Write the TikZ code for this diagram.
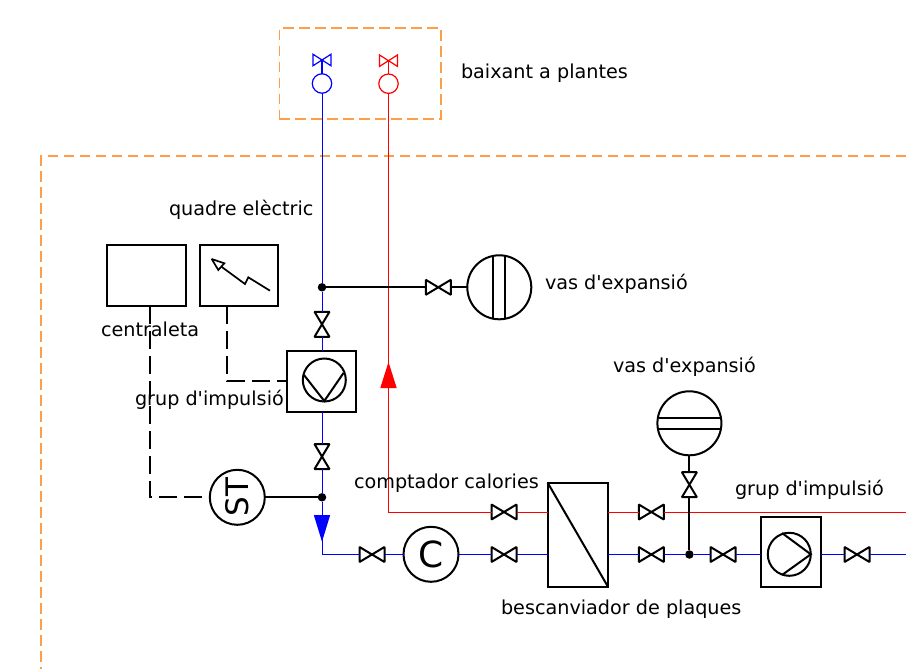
\documentclass[tikz,border=0pt]{standalone}
\usepackage{fontspec}
\setmainfont{DejaVu Sans}
\newfontfamily\labfont{DejaVu Sans}
\definecolor{zone}{HTML}{FF9E4A}
\tikzset{
  sym/.style={draw=black,line width=2pt,line join=miter,miter limit=2},
  box/.style={sym,fill=none,rectangle,inner sep=0pt,outer sep=0pt},
  round/.style={sym,circle,inner sep=0pt,outer sep=0pt},
  valveh/.style={rectangle,inner sep=0pt,outer sep=0pt,minimum width=25pt,minimum height=15pt},
  valvev/.style={rectangle,inner sep=0pt,outer sep=0pt,minimum width=15pt,minimum height=25pt},
  smallvalve/.style={rectangle,inner sep=0pt,outer sep=0pt,minimum width=18pt,minimum height=11.5pt},
  dot/.style={circle,fill=black,inner sep=0pt,outer sep=0pt,minimum size=8.5pt},
  tap/.style={circle,inner sep=0pt,outer sep=0pt,minimum size=19.4pt,line width=1.2pt,draw=#1},
  blueline/.style={draw=blue,line width=1pt},
  redline/.style={draw=red,line width=1pt},
  link/.style={draw=black,line width=2pt},
  ctrl/.style={draw=black,line width=2pt,dash pattern=on 18pt off 7pt},
  zoneline/.style={draw=zone,line width=1.6pt,dash pattern=on 10.5pt off 5.5pt},
  lab/.style={anchor=base west,inner sep=0pt,outer sep=0pt,font=\labfont\fontsize{19.2pt}{22pt}\selectfont}
}
\newcommand{\vh}[3]{\node[valveh] (#1) at (#2,#3) {};
  \draw[sym] (#1.north west) -- (#1.south east) -- (#1.north east) -- (#1.south west) -- cycle;}
\newcommand{\vv}[3]{\node[valvev] (#1) at (#2,#3) {};
  \draw[sym] (#1.north west) -- (#1.north east) -- (#1.south west) -- (#1.south east) -- cycle;}
\begin{document}
\begin{tikzpicture}[x=1pt,y=-1pt]
\useasboundingbox (0,0) rectangle (906,669);
% zones
\node[rectangle,minimum width=161.6pt,minimum height=91pt,inner sep=0pt,outer sep=0pt,zoneline] (riser) at (360.2,73.5) {};
\coordinate (zA) at (906,156);
\coordinate (zB) at (41.2,156);
\coordinate (zC) at (41.2,669);
\draw[zoneline] (zA) -- (zB) -- (zC);
% symbols
\node[tap=blue] (tapB) at (322,83.5) {};
\node[tap=red] (tapR) at (388.5,83.7) {};
\node[smallvalve] (svB) at (322,60) {};
\draw[draw=blue,line width=1.2pt] (svB.north west) -- (svB.south east) -- (svB.north east) -- (svB.south west) -- cycle;
\node[smallvalve] (svR) at (388.5,60.7) {};
\draw[draw=red,line width=1.2pt] (svR.north west) -- (svR.south east) -- (svR.north east) -- (svR.south west) -- cycle;
\draw[draw=blue,line width=1.6pt] (svB.center) -- (tapB.north);
\draw[draw=red,line width=1.4pt] (svR.center) -- (tapR.north);

\node[box,minimum width=78.4pt,minimum height=60.7pt] (central) at (146.5,275.6) {};
\node[box,minimum width=78pt,minimum height=60.7pt] (quadre) at (239.3,275.6) {};
\coordinate (a1) at (211.7,259);
\coordinate (a2) at (224.3,263.3);
\coordinate (a3) at (218.3,270);
\coordinate (a4) at (221.3,266.6);
\coordinate (a5) at (245,284);
\coordinate (a6) at (248.3,277.3);
\coordinate (a7) at (270,290.7);
\draw[sym,line width=1.7pt] (a1) -- (a2) -- (a3) -- cycle;
\draw[sym,line width=1.7pt] (a4) -- (a5) -- (a6) -- (a7);

\node[box,minimum width=69pt,minimum height=60.4pt] (pumpV) at (321.8,381.5) {};
\node[round,minimum size=43pt] (pumpVc) at (324.3,380) {};
\coordinate (pv1) at (304,375);
\coordinate (pv2) at (324.3,401);
\coordinate (pv3) at (343.5,373);
\draw[sym] (pv1) -- (pv2) -- (pv3);

\vv{vA}{322}{324.3}
\vv{vB}{322}{456.6}
\node[dot] (jA) at (322,287.3) {};
\node[dot] (jB) at (322,497.3) {};
\vh{vC}{438.3}{287.3}
\node[round,minimum size=64pt] (vesA) at (499.3,287.3) {};
\coordinate (vA1) at (493.3,255.9);
\coordinate (vA2) at (493.3,318.7);
\coordinate (vA3) at (505.3,255.9);
\coordinate (vA4) at (505.3,318.7);
\draw[sym] (vA1) -- (vA2) (vA3) -- (vA4);

\node[round,minimum size=55pt,font=\fontsize{31pt}{33pt}\selectfont] (st) at (237.3,497.3) {\rotatebox{90}{ST}};
\node[round,minimum size=55pt,font=\fontsize{36pt}{40pt}\selectfont] (cal) at (431,554.3) {C};
\vh{vD}{372}{554.5}
\vh{vE}{504}{554.5}
\vh{vF}{504}{512}
\node[box,minimum width=60.3pt,minimum height=104pt] (hx) at (577.8,534.7) {};
\draw[sym] (hx.north west) -- (hx.south east);
\vh{vG}{651.3}{512}
\vh{vH}{651.3}{554.5}
\node[dot] (jC) at (689.4,554.5) {};
\vh{vI}{723}{554.5}
\vh{vJ}{857}{554.5}
\vv{vK}{689.4}{484.7}
\node[round,minimum size=64pt] (vesB) at (689.4,423.3) {};
\coordinate (vB1) at (657.9,417.7);
\coordinate (vB2) at (720.9,417.7);
\coordinate (vB3) at (658,429.3);
\coordinate (vB4) at (720.8,429.3);
\draw[sym] (vB1) -- (vB2) (vB3) -- (vB4);
\node[box,minimum width=60.3pt,minimum height=69.4pt] (pumpH) at (790.8,552) {};
\node[round,minimum size=43pt] (pumpHc) at (789.3,554.3) {};
\coordinate (ph1) at (782,533);
\coordinate (ph2) at (810.8,554.3);
\coordinate (ph3) at (782,575);
\draw[sym] (ph1) -- (ph2) -- (ph3);

% pipes
\coordinate (cornerB) at (322,554.5);
\coordinate (cornerR) at (388.5,512);
\coordinate (endR) at (906,512);
\coordinate (endB) at (906,554.5);
\draw[blueline] (tapB.south) -- (jA) -- (vA.north);
\draw[blueline] (vA.south) -- (vA.south |- pumpV.north);
\draw[blueline] (vB.north |- pumpV.south) -- (vB.north);
\draw[blueline] (vB.south) -- (jB) -- (cornerB) -- (vD.west);
\draw[blueline] (vD.east) -- (cal.west |- vD.east);
\draw[blueline] (cal.east |- vE.west) -- (vE.west);
\draw[blueline] (vE.east) -- (hx.west |- vE.east);
\draw[blueline] (hx.east |- vH.west) -- (vH.west);
\draw[blueline] (vH.east) -- (jC) -- (vI.west);
\draw[blueline] (vI.east) -- (pumpH.west |- vI.east);
\draw[blueline] (pumpH.east |- vJ.west) -- (vJ.west);
\draw[blueline] (vJ.east) -- (endB);
\draw[redline] (tapR.south) -- (cornerR) -- (vF.west);
\draw[redline] (vF.east) -- (hx.west |- vF.east);
\draw[redline] (hx.east |- vG.west) -- (vG.west);
\draw[redline] (vG.east) -- (endR);

% arrowheads
\coordinate (bA) at (313.8,515);
\coordinate (bB) at (330.2,515);
\coordinate (bC) at (322,541.7);
\fill[blue] (bA) -- (bB) -- (bC) -- cycle;
\coordinate (rA) at (380.3,388);
\coordinate (rB) at (396.7,388);
\coordinate (rC) at (388.5,362);
\fill[red] (rA) -- (rB) -- (rC) -- cycle;

% links
\draw[link] (jA) -- (vC.west);
\draw[link] (vC.east) -- (vesA.west);
\draw[link] (st.east) -- (jB);
\draw[link] (jC) -- (vK.south);
\draw[link] (vK.north) -- (vesB.south);
\coordinate (c1) at (150.2,497.3);
\coordinate (c2) at (227.3,381);
\draw[ctrl] (central.south -| c1) -- (c1) -- (st.west);
\draw[ctrl] (quadre.south -| c2) -- (c2) -- (pumpV.west |- c2);

% labels
\node[lab] (t1) at (461,78.2) {baixant a plantes};
\node[lab] (t2) at (169,215.7) {quadre elèctric};
\node[lab] (t3) at (101,336.2) {centraleta};
\node[lab] (t4) at (135,405) {grup d'impulsió};
\node[lab] (t5) at (545,289.7) {vas d'expansió};
\node[lab] (t6) at (613,372.7) {vas d'expansió};
\node[lab] (t7) at (354,488.7) {comptador calories};
\node[lab] (t8) at (735,495) {grup d'impulsió};
\node[lab] (t9) at (501,614.7) {bescanviador de plaques};
\end{tikzpicture}
\end{document}
